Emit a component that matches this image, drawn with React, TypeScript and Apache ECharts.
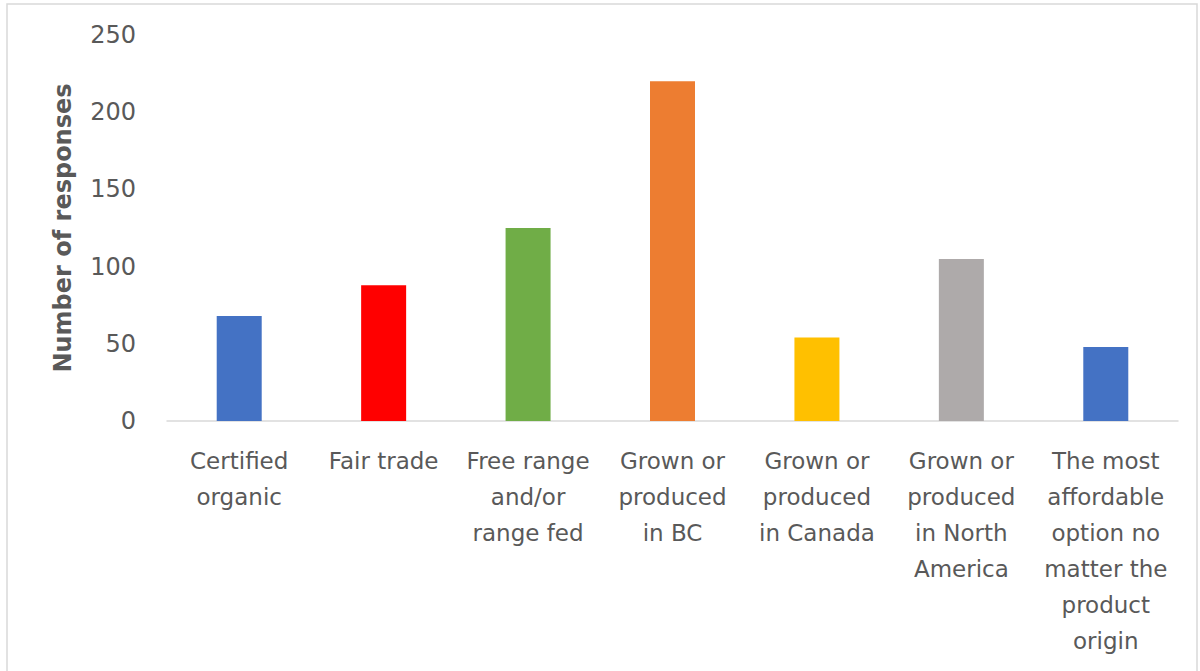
import React, { useEffect, useRef } from "react";
import * as echarts from "echarts";

const categories = [
  "Certified\norganic",
  "Fair trade",
  "Free range\nand/or\nrange fed",
  "Grown or\nproduced\nin BC",
  "Grown or\nproduced\nin Canada",
  "Grown or\nproduced\nin North\nAmerica",
  "The most\naffordable\noption no\nmatter the\nproduct\norigin",
];
const responses = [68, 88, 125, 220, 54, 105, 48];
const barColors = ["#4472C4", "#FF0000", "#70AD47", "#ED7D31", "#FFC000", "#AEAAAA", "#4472C4"];
const yTitle = "Number of responses";

const FONT = "'DejaVu Sans', 'Noto Sans', sans-serif";

export default function App() {
  const ref = useRef<HTMLDivElement>(null);
  useEffect(() => {
    if (!ref.current) return;
    const chart = echarts.init(ref.current, undefined, { renderer: "svg" });
    chart.setOption({
      animation: false,
      backgroundColor: "#ffffff",
      graphic: [
        {
          type: "rect",
          shape: { x: 7, y: 4, width: 1190, height: 700 },
          style: { fill: "none", stroke: "#d9d9d9", lineWidth: 1.5 },
          silent: true,
        },
      ],
      grid: { left: 167, right: 22, top: 35, bottom: 250, containLabel: false },
      xAxis: {
        type: "category",
        data: categories,
        axisLine: { show: true, lineStyle: { color: "#d9d9d9", width: 1.5 } },
        axisTick: { show: false },
        axisLabel: {
          interval: 0,
          margin: 22,
          color: "#595959",
          fontSize: 23,
          lineHeight: 36,
          fontFamily: FONT,
        },
      },
      yAxis: {
        type: "value",
        min: 0,
        max: 250,
        interval: 50,
        name: yTitle,
        nameLocation: "middle",
        nameGap: 92,
        nameTextStyle: { color: "#595959", fontSize: 24, fontWeight: "bold", fontFamily: FONT },
        axisLine: { show: false },
        axisTick: { show: false },
        splitLine: { show: false },
        axisLabel: { color: "#595959", fontSize: 24, margin: 31, fontFamily: FONT },
      },
      series: [
        {
          type: "bar",
          data: responses.map((v, i) => ({ value: v, itemStyle: { color: barColors[i] } })),
          barWidth: 45,
        },
      ],
    });
    return () => chart.dispose();
  }, []);
  return (
    <div
      ref={ref}
      style={{ position: "fixed", left: 0, top: 0, width: 1200, height: 671 }}
    />
  );
}
